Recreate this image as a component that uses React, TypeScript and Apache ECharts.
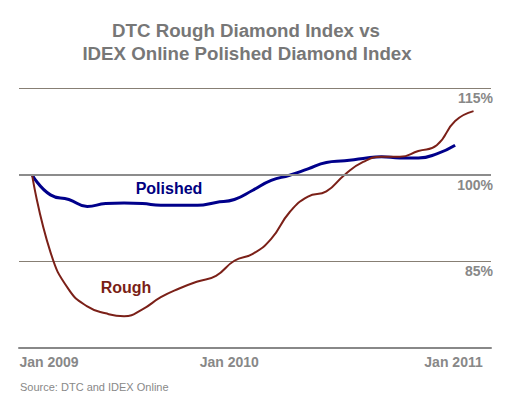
import React, { useEffect, useRef } from "react";
import * as echarts from "echarts";

const months = [
  "2009-01", "2009-02", "2009-03", "2009-04", "2009-05", "2009-06", "2009-07", "2009-08",
  "2009-09", "2009-10", "2009-11", "2009-12", "2010-01", "2010-02", "2010-03", "2010-04",
  "2010-05", "2010-06", "2010-07", "2010-08", "2010-09", "2010-10", "2010-11", "2010-12",
  "2011-01",
];
const polished = [
  100, 96.5, 95.7, 94.5, 95.0, 95.1, 95.0, 94.7, 94.7, 94.7, 95.2, 95.7, 97.3, 99.0, 99.9,
  101.0, 102.1, 102.4, 102.8, 103.1, 102.9, 102.9, 103.6, 105.1,
];
const rough = [
  100, 86.6, 80.1, 77.2, 76.0, 75.5, 76.7, 78.8, 80.3, 81.5, 82.5, 85.1, 86.3, 88.9, 93.5,
  96.2, 97.1, 100.0, 102.2, 103.1, 103.1, 104.1, 105.1, 109.3, 111.0,
];
const xTickIndex = [0, 12, 24];
const xTickLabels = ["Jan 2009", "Jan 2010", "Jan 2011"];
const yTicks = [70, 85, 100, 115];

const FONT = 'Arial, "Liberation Sans", sans-serif';

export default function App() {
  const ref = useRef<HTMLDivElement>(null);
  useEffect(() => {
    if (!ref.current) return;
    const chart = echarts.init(ref.current, null, { renderer: "svg" });
    const labelStyle = { fontFamily: FONT, fontSize: 14, fontWeight: "bold", color: "#888888" };
    chart.setOption({
      animation: false,
      grid: { left: 19, right: 25, top: 88, bottom: 50 },
      graphic: [
        {
          type: "text",
          x: 246,
          y: 30,
          style: {
            text: "DTC Rough Diamond Index vs",
            fill: "#777777",
            font: `bold 18.7px ${FONT}`,
            textAlign: "center",
            textVerticalAlign: "middle",
          },
        },
        {
          type: "text",
          x: 247,
          y: 53,
          style: {
            text: "IDEX Online Polished Diamond Index",
            fill: "#777777",
            font: `bold 18.7px ${FONT}`,
            textAlign: "center",
            textVerticalAlign: "middle",
          },
        },
        {
          type: "text",
          x: 20,
          y: 387,
          style: {
            text: "Source: DTC and IDEX Online",
            fill: "#888888",
            font: `11px ${FONT}`,
            textVerticalAlign: "middle",
          },
        },
        {
          type: "text",
          x: 169,
          y: 188,
          style: {
            text: "Polished",
            fill: "#000080",
            font: `bold 16px ${FONT}`,
            textAlign: "center",
            textVerticalAlign: "middle",
          },
        },
        {
          type: "text",
          x: 126,
          y: 287,
          style: {
            text: "Rough",
            fill: "#7a1f17",
            font: `bold 16px ${FONT}`,
            textAlign: "center",
            textVerticalAlign: "middle",
          },
        },
      ],
      xAxis: {
        type: "value",
        min: -0.71,
        max: 24.95,
        axisLine: { show: true, onZero: false, lineStyle: { color: "#888888", width: 2 } },
        axisTick: { show: false },
        splitLine: { show: false },
        axisLabel: {
          customValues: xTickIndex,
          margin: 7,
          formatter: (v: number) => {
            const i = xTickIndex.indexOf(Math.round(v));
            const key = ["a", "b", "c"][i];
            return `{${key}|${xTickLabels[i]}}`;
          },
          rich: {
            a: { ...labelStyle, padding: [0, 0, 0, 34] },
            b: { ...labelStyle, padding: [0, 47, 0, 0] },
            c: { ...labelStyle, padding: [0, 40, 0, 0] },
          },
        },
      },
      yAxis: {
        type: "value",
        position: "right",
        min: yTicks[0],
        max: yTicks[yTicks.length - 1],
        interval: 15,
        axisLine: { show: false },
        axisTick: { show: false },
        splitLine: { show: true, lineStyle: { color: "#877f74", width: 1 } },
        axisLabel: {
          inside: true,
          margin: -2,
          align: "right",
          verticalAlign: "top",
          padding: [3, 0, 0, 0],
          formatter: (v: number) => (v === yTicks[0] ? "" : `${v}%`),
          ...labelStyle,
        },
      },
      series: [
        {
          type: "line",
          name: "Polished",
          data: polished.map((v, i) => [i, v]),
          smooth: true,
          symbol: "none",
          lineStyle: { color: "#00008b", width: 3 },
          markLine: {
            silent: true,
            symbol: "none",
            label: { show: false },
            lineStyle: { color: "#8c8c8c", width: 2, type: "solid" },
            data: [{ yAxis: 100 }],
          },
          z: 3,
        },
        {
          type: "line",
          name: "Rough",
          data: rough.map((v, i) => [i, v]),
          smooth: true,
          symbol: "none",
          lineStyle: { color: "#7b2018", width: 2 },
          z: 4,
        },
      ],
    });
    return () => chart.dispose();
  }, []);
  return (
    <div
      ref={ref}
      style={{ position: "absolute", left: 0, top: 0, width: 516, height: 398 }}
    />
  );
}
